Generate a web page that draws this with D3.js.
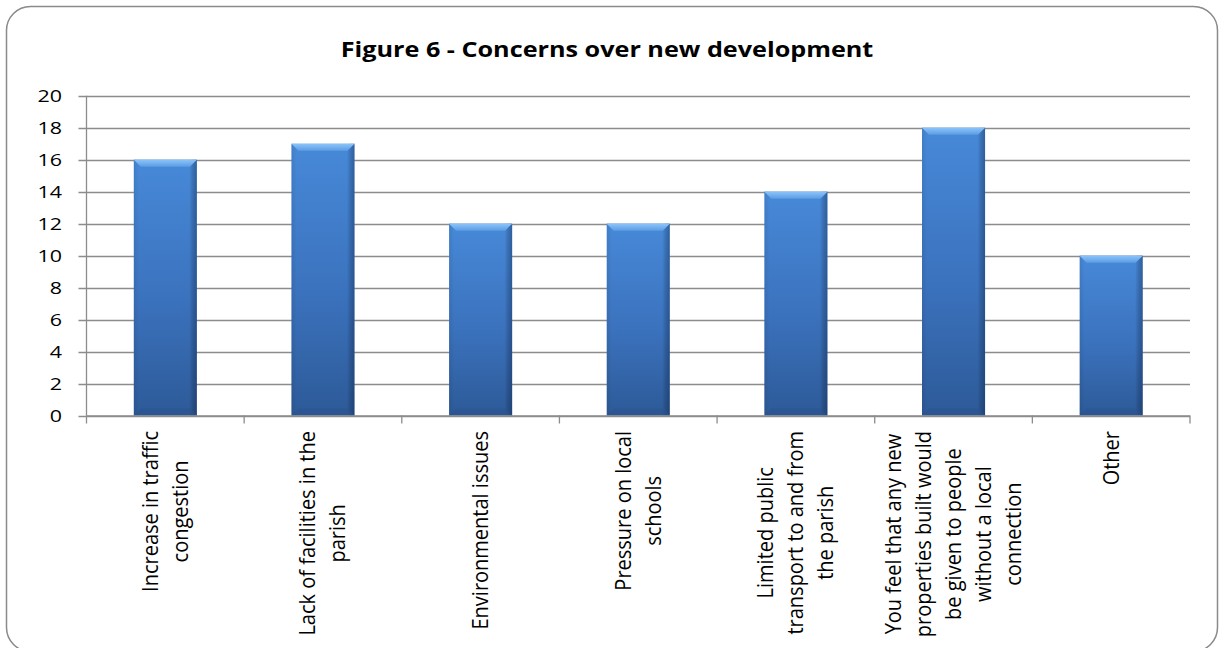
<!DOCTYPE html>
<html><head><meta charset="utf-8">
<script src="https://cdn.jsdelivr.net/npm/d3@7"></script>
<style>
html,body{margin:0;padding:0;background:#fff;}
svg{display:block;}
text{font-family:"Open Sans",sans-serif;fill:#000;}
</style></head>
<body>
<svg id="chart" width="1219" height="648"></svg>
<script>
const title = "Figure 6 - Concerns over new development";
const categories = [
  ["Increase in traffic", "congestion"],
  ["Lack of facilities in the", "parish"],
  ["Environmental issues"],
  ["Pressure on local", "schools"],
  ["Limited public", "transport to and from", "the parish"],
  ["You feel that any new", "properties built would", "be given to people", "without a local", "connection"],
  ["Other"]
];
const values = [16, 17, 12, 12, 14, 18, 10];
const yTicks = [0, 2, 4, 6, 8, 10, 12, 14, 16, 18, 20];

const svg = d3.select("#chart");
const m = {left: 86.5, right: 1190, top: 95.8, bottom: 415.5};

// border
svg.append("rect").attr("x", 6.5).attr("y", 6.5).attr("width", 1211).attr("height", 645)
  .attr("rx", 24).attr("ry", 24).attr("fill", "#fff").attr("stroke", "#8a8a8a").attr("stroke-width", 1.5);

const keys = categories.map((c, i) => i);
const x = d3.scaleBand().domain(keys).range([m.left, m.right]).paddingInner(0.6).paddingOuter(0.3);
const xb = d3.scaleBand().domain(keys).range([m.left, m.right]);
const y = d3.scaleLinear().domain([0, 20]).range([m.bottom, m.top]);

// gradients
const defs = svg.append("defs");
const gv = defs.append("linearGradient").attr("id", "gv").attr("x1", 0).attr("y1", 0).attr("x2", 0).attr("y2", 1);
gv.append("stop").attr("offset", "0%").attr("stop-color", "#4789d8");
gv.append("stop").attr("offset", "55%").attr("stop-color", "#3b72bd");
gv.append("stop").attr("offset", "100%").attr("stop-color", "#2d5a98");
const gh = defs.append("linearGradient").attr("id", "gh").attr("x1", 0).attr("y1", 0).attr("x2", 1).attr("y2", 0);
gh.append("stop").attr("offset", "0%").attr("stop-color", "#000").attr("stop-opacity", 0.08);
gh.append("stop").attr("offset", "8%").attr("stop-color", "#000").attr("stop-opacity", 0);
gh.append("stop").attr("offset", "88%").attr("stop-color", "#000").attr("stop-opacity", 0);
gh.append("stop").attr("offset", "100%").attr("stop-color", "#0a1f45").attr("stop-opacity", 0.38);
const gt = defs.append("linearGradient").attr("id", "gt").attr("x1", 0).attr("y1", 0).attr("x2", 0).attr("y2", 1);
gt.append("stop").attr("offset", "0%").attr("stop-color", "#8cc4f8");
gt.append("stop").attr("offset", "100%").attr("stop-color", "#5a9ce6");

// gridlines
svg.append("g").selectAll("line").data(yTicks).join("line")
  .attr("x1", m.left - 8).attr("x2", m.right)
  .attr("y1", d => Math.round(y(d)) + 0.5).attr("y2", d => Math.round(y(d)) + 0.5)
  .attr("stroke", "#8c8c8c").attr("stroke-width", 1.3);

// y axis line
svg.append("line").attr("x1", m.left).attr("x2", m.left).attr("y1", m.top).attr("y2", m.bottom)
  .attr("stroke", "#8c8c8c").attr("stroke-width", 1.3);

// x ticks at category boundaries
const bounds = keys.map(k => xb(k)).concat([m.right]);
svg.append("g").selectAll("line").data(bounds).join("line")
  .attr("x1", d => d).attr("x2", d => d).attr("y1", m.bottom).attr("y2", m.bottom + 8)
  .attr("stroke", "#8c8c8c").attr("stroke-width", 1.3);

// bars
const bars = svg.append("g").selectAll("g").data(values).join("g");
bars.append("rect").attr("x", (d, i) => x(i)).attr("y", d => y(d)).attr("width", x.bandwidth())
  .attr("height", d => y(0) - y(d)).attr("fill", "url(#gv)");
bars.append("rect").attr("x", (d, i) => x(i)).attr("y", d => y(d)).attr("width", x.bandwidth())
  .attr("height", d => y(0) - y(d)).attr("fill", "url(#gh)");
bars.append("path").attr("d", (d, i) => {
  const x0 = x(i), x1 = x(i) + x.bandwidth(), t = y(d), b = 7;
  return `M${x0},${t}L${x1},${t}L${x1 - b},${t + b}L${x0 + b},${t + b}Z`;
}).attr("fill", "url(#gt)");
bars.append("path").attr("d", (d, i) => {
  const x0 = x(i), x1 = x(i) + x.bandwidth(), t = y(0), b = 7;
  return `M${x0},${t}L${x1},${t}L${x1 - b},${t - b}L${x0 + b},${t - b}Z`;
}).attr("fill", "#2a548f").attr("opacity", 0.6);

// x axis line
svg.append("line").attr("x1", m.left).attr("x2", m.right).attr("y1", m.bottom + 0.5).attr("y2", m.bottom + 0.5)
  .attr("stroke", "#8c8c8c").attr("stroke-width", 1.3);

// y labels
svg.append("g").selectAll("text").data(yTicks).join("text")
  .attr("transform", d => `translate(62,${y(d) + 6}) scale(1.3,1)`)
  .attr("text-anchor", "end").attr("font-size", 16.5).text(d => d);

// title
svg.append("text").attr("transform", `translate(607,57) scale(1.2,1)`)
  .attr("text-anchor", "middle").attr("font-size", 21).attr("font-weight", "bold").text(title);

// x labels
const lab = svg.append("g");
categories.forEach((lines, i) => {
  const cx = xb(i) + xb.bandwidth() / 2;
  const ts = lab.append("g").selectAll("text").data(lines).join("text")
    .attr("font-size", 20).attr("text-anchor", "middle").text(d => d);
  let maxLen = 0;
  ts.each(function () { maxLen = Math.max(maxLen, this.getComputedTextLength()); });
  const n = lines.length;
  ts.attr("transform", (d, j) => `translate(${cx + (j - (n - 1) / 2) * 30 + 7.5},${431 + maxLen / 2}) scale(1.05,1) rotate(-90)`);
});
</script>
</body></html>
